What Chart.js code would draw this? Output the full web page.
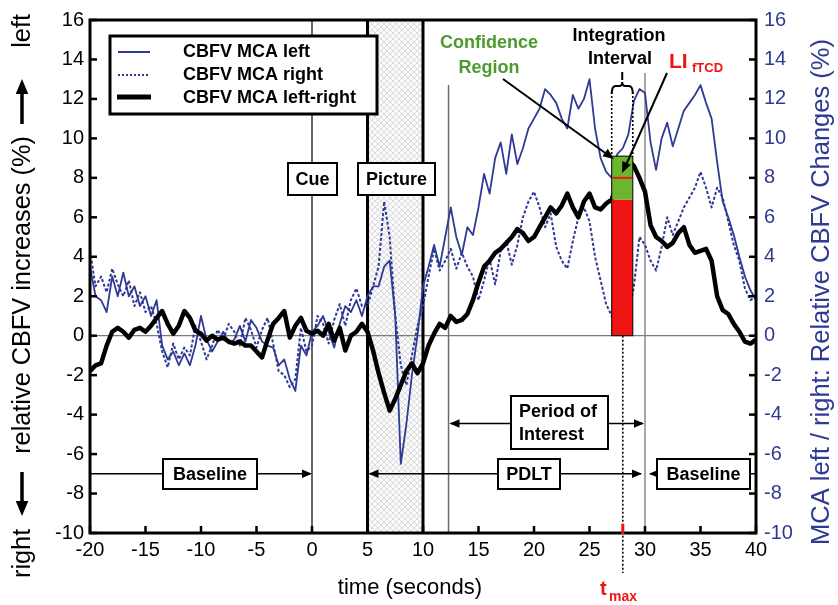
<!DOCTYPE html>
<html>
<head>
<meta charset="utf-8">
<script src="https://cdn.jsdelivr.net/npm/chart.js@4.4.1/dist/chart.umd.min.js"></script>
<style>
  html, body { margin: 0; padding: 0; background: #fff; }
  canvas { display: block; }
</style>
</head>
<body>
<canvas id="chart" width="838" height="605"></canvas>
<script>
// time grid: -20 s .. 40 s, one sample every 0.5 s
const tStart = -20;
const tStep = 0.5;

// CBFV MCA left-right (%), left axis
const leftRight = [
  -1.8, -1.5, -1.4, -0.5, 0.2, 0.4, 0.2, -0.1, 0.3, 0.4,
  0.2, 0.5, 0.9, 1.25, 0.6, 0.1, 0.5, 1.25, 0.9, 0.25,
  0.1, -0.25, 0.0, -0.2, -0.1, -0.3, -0.4, -0.3, -0.5, -0.5,
  -0.8, -1.1, -0.2, 0.6, 0.9, 1.25, -0.1, 0.5, 0.9, 0.25,
  0.1, 0.25, 0.0, 0.6, -0.25, 0.4, -0.75, 0.0, 0.2, 0.6,
  0.2, -0.75, -1.9, -2.9, -3.8, -3.2, -2.5, -1.8, -1.4, -1.9,
  -1.4, -0.5, 0.1, 0.6, 0.4, 1.0, 0.7, 0.8, 1.1, 1.8,
  2.7, 3.5, 3.8, 4.2, 4.4, 4.7, 5.0, 5.4, 5.2, 4.8,
  5.0, 5.5, 6.0, 6.5, 6.2, 6.6, 7.2, 6.5, 6.0, 6.8,
  7.2, 6.5, 6.4, 6.7, 6.9, 7.8, 8.5, 8.9, 8.6, 8.0,
  7.3, 5.6, 5.0, 4.8, 4.5, 4.7, 5.2, 5.5, 4.6, 4.2,
  4.3, 4.4, 3.8, 2.0, 1.3, 1.1, 0.6, 0.2, -0.3, -0.4,
  -0.2
];

// CBFV MCA left (%), right axis
const mcaLeft = [
  3.5, 2.0, 1.8, 1.2, 3.0, 2.0, 3.2, 2.0, 2.5, 1.5,
  2.0, 1.0, 1.8, -0.5, -1.2, -0.8, -1.5, -0.9, -1.5, -0.5,
  1.0, -0.2, -0.8, -0.3, 0.2, -0.4, -0.2, 0.5, -0.3, 0.8,
  0.4, -0.3, -0.5, -0.6, -1.5, -1.2, -2.2, -2.8, -0.5, -1.0,
  0.2, 0.5, 1.0, 0.2, -0.6, 0.6, 1.5, 1.2, 1.8, 1.0,
  2.0, 2.5, 2.5, 3.5, 3.8, 1.0, -6.5, -4.5, -2.0, 0.0,
  2.5, 3.5, 4.6, 3.5, 5.0, 6.5, 5.0, 4.1, 5.5, 5.1,
  6.5, 8.2, 7.2, 9.0, 9.8, 8.2, 10.2, 8.7, 9.5, 10.5,
  11.0, 11.5, 12.5, 12.2, 11.8, 11.0, 10.5, 12.2, 11.5, 12.0,
  13.0, 10.5, 9.0, 8.3, 8.0, 9.2, 9.5, 10.2, 11.9, 12.5,
  12.3, 9.8, 8.4, 10.0, 10.8, 9.6, 10.5, 11.4, 11.8, 12.2,
  12.7, 11.8, 11.0, 8.8, 6.8, 6.0, 5.1, 4.0, 3.0, 2.3,
  1.8
];

// CBFV MCA right (%), right axis
const mcaRight = [
  4.3, 2.5, 3.0, 2.2, 3.4, 2.6, 2.0, 2.8, 1.5, 2.2,
  1.2, 1.5, 0.6, -0.8, -1.6, -0.4, -1.2, -0.6, -1.0, 0.5,
  -0.3, -1.2, -0.5, 0.3, -0.2, 0.6, 0.2, -0.5, 0.9, 0.3,
  -0.6, 0.3, 0.9, -0.4, -1.8, -2.0, -2.6, -2.2, 0.4, -0.8,
  -0.5, 1.0, 0.6, -0.4, 0.8, 1.6, 0.5, 1.8, 2.4, 1.5,
  1.5, 2.5, 3.5, 6.8, 5.0, 1.0, -1.5, -2.5, -1.0, 0.5,
  1.5, 3.0, 4.4, 3.3, 3.8, 4.4, 3.4, 4.2, 3.5, 3.0,
  1.8, 2.8, 3.9, 2.6, 4.3, 4.8, 3.6, 4.6, 6.0, 6.8,
  7.3, 6.5, 5.5, 6.2, 4.5, 3.8, 3.4, 4.8, 6.0, 6.5,
  5.8, 4.0, 2.8, 1.6, 1.0, 0.6, 0.8, 0.9, 2.5, 5.0,
  4.6, 3.8, 3.3, 4.5, 6.0, 5.1, 5.8, 6.5, 7.0, 7.5,
  8.3, 7.5, 6.5, 7.5, 7.0, 5.8, 4.6, 3.8, 2.4, 1.8,
  2.0
];

// event times (s)
const cueTime = 0;
const pictureOn = 5;
const pictureOff = 10;
const poiStart = 12.3;
const poiEnd = 30;
const tMax = 28;
const integration = [27, 28.9];

// LI with confidence region (%)
const liValue = 8.0;
const ciLow = 6.9;
const ciHigh = 9.1;

// y levels of the period arrows (%)
const baselineLevel = -7;
const poiLevel = -4.45;

const FONT = '"Liberation Sans", Arial, sans-serif';
const BLUE = '#2e3a94';
const GREEN = '#4b9a2e';
const RED = '#f01414';

const times = leftRight.map((_, i) => tStart + i * tStep);
const toXY = arr => arr.map((v, i) => ({ x: times[i], y: v }));

function seg(ctx, x1, y1, x2, y2, color, w) {
  ctx.strokeStyle = color;
  ctx.lineWidth = w;
  ctx.beginPath();
  ctx.moveTo(x1, y1);
  ctx.lineTo(x2, y2);
  ctx.stroke();
}

function head(ctx, x1, y1, x2, y2, len) {
  const ang = Math.atan2(y2 - y1, x2 - x1);
  const w = len * 0.42;
  ctx.beginPath();
  ctx.moveTo(x2, y2);
  ctx.lineTo(x2 - len * Math.cos(ang) + w * Math.sin(ang), y2 - len * Math.sin(ang) - w * Math.cos(ang));
  ctx.lineTo(x2 - len * Math.cos(ang) - w * Math.sin(ang), y2 - len * Math.sin(ang) + w * Math.cos(ang));
  ctx.closePath();
  ctx.fill();
}

function box(ctx, x1, y1, x2, y2, lines, align) {
  ctx.fillStyle = '#fff';
  ctx.fillRect(x1, y1, x2 - x1, y2 - y1);
  ctx.strokeStyle = '#000';
  ctx.lineWidth = 2;
  ctx.strokeRect(x1, y1, x2 - x1, y2 - y1);
  ctx.fillStyle = '#000';
  ctx.font = 'bold 18px ' + FONT;
  ctx.textBaseline = 'middle';
  const lh = 23;
  const y0 = (y1 + y2) / 2 - (lines.length - 1) * lh / 2;
  lines.forEach((s, i) => {
    if (align === 'left') {
      ctx.textAlign = 'left';
      ctx.fillText(s, x1 + 8, y0 + i * lh + 1);
    } else {
      ctx.textAlign = 'center';
      ctx.fillText(s, (x1 + x2) / 2, y0 + i * lh + 1);
    }
  });
}

function hatch(ctx) {
  const p = document.createElement('canvas');
  p.width = 6; p.height = 6;
  const g = p.getContext('2d');
  g.fillStyle = '#fafafa';
  g.fillRect(0, 0, 6, 6);
  g.strokeStyle = '#cdcdcd';
  g.lineWidth = 0.7;
  g.beginPath();
  g.moveTo(0, 0); g.lineTo(6, 6);
  g.moveTo(6, 0); g.lineTo(0, 6);
  g.stroke();
  return ctx.createPattern(p, 'repeat');
}

function fitFont(ctx, text, width, weight) {
  ctx.font = weight + ' 20px ' + FONT;
  return 20 * width / ctx.measureText(text).width;
}

const decor = {
  id: 'decor',
  beforeDatasetsDraw(chart) {
    const { ctx, chartArea: a, scales: { x, y } } = chart;
    const X = v => x.getPixelForValue(v), Y = v => y.getPixelForValue(v);
    ctx.save();
    ctx.fillStyle = hatch(ctx);
    ctx.fillRect(X(pictureOn), a.top, X(pictureOff) - X(pictureOn), a.bottom - a.top);
    seg(ctx, a.left, Y(0), a.right, Y(0), '#7a7a7a', 1.2);
    seg(ctx, X(cueTime), a.top, X(cueTime), a.bottom, '#000', 1.2);
    seg(ctx, X(poiStart), 85, X(poiStart), a.bottom, '#6a6a6a', 1.5);
    seg(ctx, X(poiEnd), 73, X(poiEnd), a.bottom, '#8a8a8a', 1.5);
    seg(ctx, X(pictureOn), a.top, X(pictureOn), a.bottom, '#000', 3);
    seg(ctx, X(pictureOff), a.top, X(pictureOff), a.bottom, '#000', 3);
    ctx.restore();
  },
  afterDatasetsDraw(chart) {
    const { ctx, chartArea: a, scales: { x, y } } = chart;
    const X = v => x.getPixelForValue(v), Y = v => y.getPixelForValue(v);
    ctx.save();

    // integration interval bar
    const bx1 = X(integration[0]), bx2 = X(integration[1]);
    ctx.fillStyle = RED;
    ctx.fillRect(bx1, Y(ciLow), bx2 - bx1, Y(0) - Y(ciLow));
    ctx.fillStyle = '#6cb52f';
    ctx.fillRect(bx1, Y(ciHigh), bx2 - bx1, Y(ciLow) - Y(ciHigh));
    ctx.strokeStyle = '#000';
    ctx.lineWidth = 1;
    ctx.strokeRect(bx1, Y(ciHigh), bx2 - bx1, Y(0) - Y(ciHigh));
    seg(ctx, bx1 + 1, Y(liValue), bx2 - 1, Y(liValue), RED, 2);

    // dotted guides
    ctx.setLineDash([2, 2]);
    seg(ctx, bx1, 92, bx1, Y(ciHigh), '#000', 1.6);
    seg(ctx, bx2, 92, bx2, Y(ciHigh), '#000', 1.6);
    seg(ctx, X(tMax), Y(0), X(tMax), a.bottom + 40, '#000', 1.6);
    ctx.setLineDash([]);

    // brace over the interval
    const xc = (bx1 + bx2) / 2;
    ctx.strokeStyle = '#000';
    ctx.lineWidth = 2;
    ctx.beginPath();
    ctx.moveTo(bx1, 94);
    ctx.quadraticCurveTo(bx1, 86, bx1 + 4, 86);
    ctx.lineTo(xc - 3, 86);
    ctx.quadraticCurveTo(xc, 86, xc, 82);
    ctx.quadraticCurveTo(xc, 86, xc + 3, 86);
    ctx.lineTo(bx2 - 4, 86);
    ctx.quadraticCurveTo(bx2, 86, bx2, 94);
    ctx.stroke();
    seg(ctx, xc, 72, xc, 80, '#000', 2);

    // period arrows and labels
    ctx.fillStyle = '#000';
    const yb = Y(baselineLevel);
    seg(ctx, a.left, yb, X(cueTime) - 2, yb, '#000', 1.5);
    head(ctx, a.left, yb, X(cueTime), yb, 10);
    seg(ctx, X(pictureOn) + 2, yb, X(poiEnd) - 4, yb, '#000', 1.5);
    head(ctx, X(poiEnd), yb, X(pictureOn) + 1, yb, 10);
    head(ctx, X(pictureOn), yb, X(poiEnd) - 3, yb, 10);
    seg(ctx, X(poiEnd) + 5, yb, a.right, yb, '#000', 1.5);
    head(ctx, a.right, yb, X(poiEnd) + 4, yb, 10);
    const yp = Y(poiLevel);
    seg(ctx, X(poiStart) + 2, yp, X(poiEnd) - 2, yp, '#000', 1.5);
    head(ctx, X(poiEnd), yp, X(poiStart) + 1, yp, 10);
    head(ctx, X(poiStart), yp, X(poiEnd) - 1, yp, 10);

    box(ctx, 288, 163, 337, 195, ['Cue']);
    box(ctx, 358, 163, 435, 195, ['Picture']);
    box(ctx, 163, 459, 257, 489, ['Baseline']);
    box(ctx, 498, 459, 560, 489, ['PDLT']);
    box(ctx, 657, 459, 750, 489, ['Baseline']);
    box(ctx, 511, 396, 608, 449, ['Period of', 'Interest'], 'left');

    // callouts
    ctx.font = 'bold 18px ' + FONT;
    ctx.textAlign = 'center';
    ctx.textBaseline = 'middle';
    ctx.fillStyle = GREEN;
    ctx.fillText('Confidence', 489, 43);
    ctx.fillText('Region', 489, 68);
    ctx.fillStyle = '#000';
    ctx.fillText('Integration', 619, 36);
    ctx.fillText('Interval', 620, 59);
    ctx.textAlign = 'left';
    ctx.fillStyle = RED;
    ctx.font = 'bold 21px ' + FONT;
    ctx.fillText('LI', 669, 62);
    ctx.font = 'bold 13px ' + FONT;
    ctx.fillText('fTCD', 692, 68);
    ctx.fillStyle = '#000';
    seg(ctx, 503, 79, 608, 155, '#000', 2);
    head(ctx, 503, 79, 614, 159, 11);
    seg(ctx, 667, 73, 626, 165, '#000', 2);
    head(ctx, 667, 73, 622, 173, 11);

    // legend
    ctx.fillStyle = '#fff';
    ctx.fillRect(110, 36, 267, 78);
    ctx.strokeStyle = '#000';
    ctx.lineWidth = 3;
    ctx.strokeRect(110, 36, 267, 78);
    seg(ctx, 118, 52, 150, 52, BLUE, 2);
    ctx.setLineDash([2, 2]);
    seg(ctx, 118, 75, 150, 75, BLUE, 2);
    ctx.setLineDash([]);
    seg(ctx, 117, 97, 151, 97, '#000', 5);
    ctx.fillStyle = '#000';
    ctx.font = 'bold 18px ' + FONT;
    ctx.textAlign = 'left';
    ctx.fillText('CBFV MCA left', 183, 52);
    ctx.fillText('CBFV MCA right', 183, 75);
    ctx.fillText('CBFV MCA left-right', 183, 98);

    // frame and inward ticks
    ctx.strokeStyle = '#000';
    ctx.lineWidth = 3;
    ctx.strokeRect(a.left, a.top, a.right - a.left, a.bottom - a.top);
    y.ticks.forEach(t => {
      seg(ctx, a.left, Y(t.value), a.left + 7, Y(t.value), '#000', 2.5);
      seg(ctx, a.right - 7, Y(t.value), a.right, Y(t.value), '#000', 2.5);
    });
    x.ticks.forEach(t => {
      seg(ctx, X(t.value), a.bottom - 7, X(t.value), a.bottom, '#000', 2.5);
    });
    seg(ctx, X(tMax), a.bottom - 9, X(tMax), a.bottom + 1, RED, 3);

    // t max label
    ctx.fillStyle = RED;
    ctx.font = 'bold 20px ' + FONT;
    ctx.textAlign = 'left';
    ctx.fillText('t', 600, 589);
    ctx.font = 'bold 14px ' + FONT;
    ctx.fillText('max', 609, 597);

    // x title
    ctx.fillStyle = '#000';
    ctx.font = '22px ' + FONT;
    ctx.textAlign = 'center';
    ctx.fillText('time (seconds)', 410, 588);

    // left title with arrows
    ctx.save();
    ctx.translate(22, 296);
    ctx.rotate(-Math.PI / 2);
    const mainTxt = 'relative CBFV increases (%)';
    const fs = fitFont(ctx, mainTxt, 318, 'normal');
    ctx.font = fs.toFixed(1) + 'px ' + FONT;
    ctx.textAlign = 'center';
    ctx.fillStyle = '#000';
    ctx.fillText(mainTxt, 1, 1);
    ctx.textAlign = 'left';
    ctx.fillText('right', -282, 1);
    ctx.textAlign = 'right';
    ctx.fillText('left', 282, 1);
    seg(ctx, -176, 0, -208, 0, '#000', 3.5);
    head(ctx, -176, 0, -220, 0, 15);
    seg(ctx, 172, 0, 204, 0, '#000', 3.5);
    head(ctx, 172, 0, 217, 0, 15);
    ctx.restore();

    // right title
    ctx.save();
    ctx.translate(822, 292);
    ctx.rotate(-Math.PI / 2);
    const rTxt = 'MCA left / right: Relative CBFV Changes (%)';
    const rfs = fitFont(ctx, rTxt, 505, 'normal');
    ctx.font = rfs.toFixed(1) + 'px ' + FONT;
    ctx.fillStyle = BLUE;
    ctx.textAlign = 'center';
    ctx.fillText(rTxt, 0, 0);
    ctx.restore();

    ctx.restore();
  }
};

const tickFont = { family: FONT, size: 20 };

new Chart(document.getElementById('chart'), {
  type: 'line',
  data: {
    datasets: [
      { label: 'CBFV MCA left-right', data: toXY(leftRight), borderColor: '#000', borderWidth: 4.5, yAxisID: 'y', order: 0 },
      { label: 'CBFV MCA left', data: toXY(mcaLeft), borderColor: BLUE, borderWidth: 1.8, yAxisID: 'y2', order: 1 },
      { label: 'CBFV MCA right', data: toXY(mcaRight), borderColor: BLUE, borderWidth: 2, borderDash: [3, 2], yAxisID: 'y2', order: 2 }
    ]
  },
  options: {
    responsive: false,
    animation: false,
    elements: {
      point: { radius: 0 },
      line: { tension: 0, borderJoinStyle: 'round' }
    },
    layout: { padding: { top: 17, left: 0, right: 0, bottom: 0 } },
    plugins: { legend: { display: false }, tooltip: { enabled: false } },
    scales: {
      x: {
        type: 'linear', min: -20, max: 40,
        ticks: { stepSize: 5, font: tickFont, color: '#000', padding: 5 },
        grid: { display: false, drawTicks: false },
        border: { display: false },
        afterFit: s => { s.height = 72; }
      },
      y: {
        position: 'left', min: -10, max: 16,
        ticks: { stepSize: 2, font: tickFont, color: '#000', padding: 6 },
        grid: { display: false, drawTicks: false },
        border: { display: false },
        afterFit: s => { s.width = 90; }
      },
      y2: {
        position: 'right', min: -10, max: 16,
        ticks: { stepSize: 2, font: tickFont, color: BLUE, padding: 8 },
        grid: { display: false, drawTicks: false },
        border: { display: false },
        afterFit: s => { s.width = 82; }
      }
    }
  },
  plugins: [decor]
});
</script>
</body>
</html>
